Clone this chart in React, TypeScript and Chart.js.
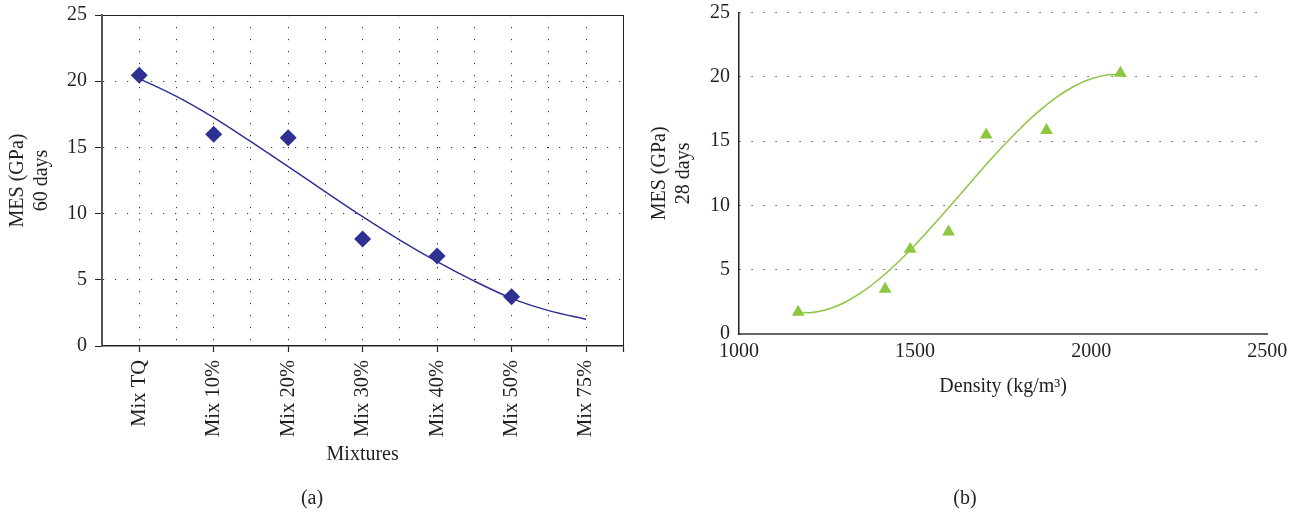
import React, { useEffect, useRef } from "react";
import { Chart, registerables } from "chart.js";

Chart.register(...registerables);

// ---- Panel (a): MES at 60 days by mixture ----
const mixCategories = ["Mix TQ", "Mix 10%", "Mix 20%", "Mix 30%", "Mix 40%", "Mix 50%", "Mix 75%"];
const mes60Values = [20.45, 16.0, 15.73, 8.08, 6.8, 3.72];
const trend60Pos = [0, 0.5, 1, 1.5, 2, 2.5, 3, 3.5, 4, 4.5, 5, 5.5, 6];
const trend60Values = [20.2, 18.85, 17.25, 15.43, 13.55, 11.65, 9.77, 8.0, 6.37, 4.9, 3.6, 2.67, 2.02];

// ---- Panel (b): MES at 28 days vs density ----
const densityValues = [1168, 1415, 1486, 1595, 1702, 1873, 2083];
const mes28Values = [1.7, 3.5, 6.6, 7.95, 15.5, 15.85, 20.3];
const trend28Density = [1170, 1200, 1250, 1300, 1350, 1400, 1450, 1500, 1550, 1600, 1650, 1700, 1750, 1800, 1850, 1900, 1950, 2000, 2050, 2083];
const trend28Values = [1.68, 1.66, 1.9, 2.45, 3.27, 4.32, 5.55, 6.93, 8.42, 9.97, 11.56, 13.13, 14.62, 16.03, 17.3, 18.39, 19.26, 19.86, 20.17, 20.2];

const yTickStep = 5;
const yMax = 25;
const densityMin = 1000;
const densityMax = 2500;
const densityStep = 500;

const FONT = '"Liberation Serif", "Times New Roman", serif';
const TEXT = "#231f20";
const NAVY = "#2e3192";
const GREEN = "#8dc63f";
const DOT = "rgba(30,30,30,0.9)";
const DOTS = [1.2, 10.8];

const zeroPad = (s: any) => {
  s.paddingLeft = 0;
  s.paddingRight = 0;
  s.paddingTop = 0;
  s.paddingBottom = 0;
};

export default function App() {
  const leftRef = useRef<HTMLCanvasElement>(null);
  const rightRef = useRef<HTMLCanvasElement>(null);

  useEffect(() => {
    document.body.style.margin = "0";
    const font = { family: FONT, size: 20 };

    const left = new Chart(leftRef.current!, {
      type: "scatter",
      data: {
        datasets: [
          {
            type: "line",
            data: trend60Pos.map((x, i) => ({ x, y: trend60Values[i] })),
            borderColor: NAVY,
            borderWidth: 1.5,
            pointRadius: 0,
            fill: false,
            cubicInterpolationMode: "monotone",
            order: 1,
          } as any,
          {
            type: "scatter",
            data: mes60Values.map((y, i) => ({ x: i, y })),
            pointStyle: "rectRot",
            pointRadius: 8.5,
            backgroundColor: NAVY,
            borderColor: NAVY,
            borderWidth: 0,
            order: 0,
          },
        ],
      },
      options: {
        animation: false,
        responsive: false,
        events: [],
        layout: { padding: { left: 0, top: 15, right: 16.7, bottom: 46 } },
        plugins: { legend: { display: false }, tooltip: { enabled: false } },
        scales: {
          x: {
            type: "linear",
            min: -0.5,
            max: mixCategories.length - 0.5,
            afterFit: (s: any) => {
              s.height = 121;
              zeroPad(s);
            },
            ticks: {
              stepSize: 0.5,
              autoSkip: false,
              minRotation: 90,
              maxRotation: 90,
              padding: 8,
              color: TEXT,
              font: { family: FONT, size: 20.5 },
              callback: (v: any) => (Number.isInteger(v) ? mixCategories[v] : ""),
            },
            grid: {
              lineWidth: 1,
              tickLength: 6,
              tickBorderDash: [],
              tickWidth: 1.2,
              color: (ctx: any) => {
                const v = ctx.tick?.value;
                if (v === -0.5) return "transparent";
                if (v === mixCategories.length - 0.5) return "#222";
                return DOT;
              },
              tickColor: (ctx: any) => {
                const v = ctx.tick?.value;
                if (Number.isInteger(v) || v === mixCategories.length - 0.5) return "#222";
                return "transparent";
              },
            },
            border: {
              color: "#222",
              width: 1.5,
              dash: (ctx: any) =>
                ctx.tick && ctx.tick.value !== mixCategories.length - 0.5 ? DOTS : [],
            },
            title: { display: true, text: "Mixtures", color: TEXT, font, padding: 0 },
          } as any,
          y: {
            min: 0,
            max: yMax,
            afterFit: (s: any) => {
              s.width = 102;
              zeroPad(s);
            },
            ticks: { stepSize: yTickStep, padding: 8, color: TEXT, font },
            grid: {
              lineWidth: 1,
              tickLength: 7,
              tickBorderDash: [],
              tickColor: "#222",
              color: (ctx: any) => {
                const v = ctx.tick?.value;
                if (v === yMax) return "#222";
                if (v === 0) return "transparent";
                return DOT;
              },
            },
            border: {
              color: "#555",
              width: 2,
              dash: (ctx: any) => (ctx.tick && ctx.tick.value !== yMax ? DOTS : []),
            },
            title: {
              display: true,
              text: ["MES (GPa)", "60 days"],
              color: TEXT,
              font,
              padding: { top: 6, bottom: 0 },
            },
          } as any,
        },
      },
    });

    const right = new Chart(rightRef.current!, {
      type: "scatter",
      data: {
        datasets: [
          {
            type: "line",
            data: trend28Density.map((x, i) => ({ x, y: trend28Values[i] })),
            borderColor: GREEN,
            borderWidth: 1.5,
            pointRadius: 0,
            fill: false,
            cubicInterpolationMode: "monotone",
            order: 1,
          } as any,
          {
            type: "scatter",
            data: densityValues.map((x, i) => ({ x, y: mes28Values[i] })),
            pointStyle: "triangle",
            pointRadius: 7.3,
            backgroundColor: GREEN,
            borderColor: GREEN,
            borderWidth: 0,
            order: 0,
          },
        ],
      },
      options: {
        animation: false,
        responsive: false,
        events: [],
        layout: { padding: { left: 0, top: 12.7, right: 34.7, bottom: 114 } },
        plugins: { legend: { display: false }, tooltip: { enabled: false } },
        scales: {
          x: {
            type: "linear",
            min: densityMin,
            max: densityMax,
            afterFit: (s: any) => {
              s.height = 65;
              zeroPad(s);
            },
            ticks: {
              stepSize: densityStep,
              padding: 6,
              color: TEXT,
              font,
              maxRotation: 0,
              callback: (v: any) => String(v),
            },
            grid: { display: false, drawTicks: false },
            border: { color: "#666", width: 2 },
            title: { display: true, text: "Density (kg/m³)", color: TEXT, font, padding: 0 },
          } as any,
          y: {
            min: 0,
            max: yMax,
            afterFit: (s: any) => {
              s.width = 99;
              zeroPad(s);
            },
            ticks: { stepSize: yTickStep, padding: 9, color: TEXT, font },
            grid: {
              drawTicks: false,
              lineWidth: 1,
              color: (ctx: any) => (ctx.tick?.value === 0 ? "transparent" : DOT),
            },
            border: {
              color: "#222",
              width: 1.5,
              dash: (ctx: any) => (ctx.tick ? DOTS : []),
            },
            title: {
              display: true,
              text: ["MES (GPa)", "28 days"],
              color: TEXT,
              font,
              padding: { top: 8, bottom: 0 },
            },
          } as any,
        },
      },
    });

    return () => {
      left.destroy();
      right.destroy();
    };
  }, []);

  const caption: React.CSSProperties = {
    position: "absolute",
    top: 497,
    transform: "translate(-50%, -50%)",
    fontFamily: FONT,
    fontSize: 20,
    color: TEXT,
    whiteSpace: "nowrap",
  };

  return (
    <div style={{ position: "relative", width: 1302, height: 513, background: "#fff" }}>
      <canvas
        ref={leftRef}
        width={640}
        height={513}
        style={{ position: "absolute", left: 0, top: 0, width: 640, height: 513 }}
      />
      <canvas
        ref={rightRef}
        width={662}
        height={513}
        style={{ position: "absolute", left: 640, top: 0, width: 662, height: 513 }}
      />
      <div style={{ ...caption, left: 312 }}>(a)</div>
      <div style={{ ...caption, left: 965 }}>(b)</div>
    </div>
  );
}
